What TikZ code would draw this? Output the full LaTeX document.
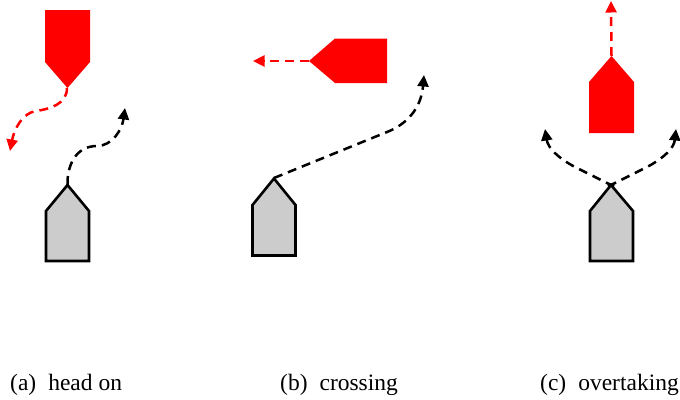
\documentclass[tikz,border=0pt]{standalone}
\usepackage{fontspec}
\setmainfont{Liberation Serif}
\usetikzlibrary{arrows.meta}
\definecolor{hullgray}{RGB}{204,204,204}
\tikzset{
  x=1pt,y=-1pt,
  ownship/.style={draw=black,line width=2.6pt,fill=hullgray,line join=miter},
  target/.style={fill=red,draw=none},
  route/.style={line width=2.5pt,dash pattern=on 9pt off 6pt,-{Triangle[length=11.5pt,width=11pt]}},
  redroute/.style={route,draw=red,color=red},
  blackroute/.style={route,draw=black,color=black},
  caption/.style={anchor=base west,inner sep=0pt,font=\fontsize{23.5}{26}\selectfont}
}
\begin{document}
\begin{tikzpicture}
\useasboundingbox (0,0) rectangle (680,399);
% panel a
\fill[target] (45,10) -- (90,10) -- (90,62) -- (67.5,88) -- (45,62) -- cycle;
\coordinate (aredtip) at (67,88);
\coordinate (aredend) at (10,151);
\draw[redroute] (aredtip) .. controls (67,104) and (50,109) .. (36,111)
  .. controls (22,113) and (14,130) .. (aredend);
\draw[ownship] (46,261) -- (46,211) -- (67.5,185) -- (89,211) -- (89,261) -- cycle;
\coordinate (ablacktip) at (67.5,185);
\coordinate (ablackend) at (125,108);
\draw[blackroute] (ablacktip) .. controls (67,165) and (76,146) .. (97,146)
  .. controls (112,146) and (122,130) .. (ablackend);
% panel b
\fill[target] (387,38.5) -- (387,83) -- (335,83) -- (309,61) -- (335,38.5) -- cycle;
\coordinate (bredtip) at (309,61);
\coordinate (bredend) at (253,61);
\draw[redroute] (bredtip) -- (bredend);
\draw[ownship] (252.5,255.5) -- (252.5,205) -- (274,178.5) -- (295.5,205) -- (295.5,255.5) -- cycle;
\coordinate (bblacktip) at (274,178);
\coordinate (bblackend) at (424,75);
\draw[blackroute] (bblacktip) -- (387,132) .. controls (405,125) and (421,110) .. (bblackend);
% panel c
\fill[target] (589,133) -- (589,82) -- (611.5,56) -- (634,82) -- (634,133) -- cycle;
\coordinate (credtip) at (611.5,56);
\coordinate (credend) at (611,1);
\draw[redroute] (credtip) -- (credend);
\draw[ownship] (590,261) -- (590,211) -- (611,185) -- (633,211) -- (633,261) -- cycle;
\coordinate (cblacktip) at (611,185);
\coordinate (cleftend) at (545,129);
\coordinate (crightend) at (676,129);
\draw[blackroute] (cblacktip) ++(3,1.5) -- (575,167) .. controls (558,158) and (548,148) .. (cleftend);
\draw[blackroute] (cblacktip) ++(-3,1.5) -- (647,167) .. controls (664,158) and (674,148) .. (crightend);
% captions
\node[caption] (capa) at (10,390) {(a)\hspace{12pt}head on};
\node[caption] (capb) at (280,390) {(b)\hspace{12pt}crossing};
\node[caption] (capc) at (540,390) {(c)\hspace{12pt}overtaking};
\end{tikzpicture}
\end{document}
